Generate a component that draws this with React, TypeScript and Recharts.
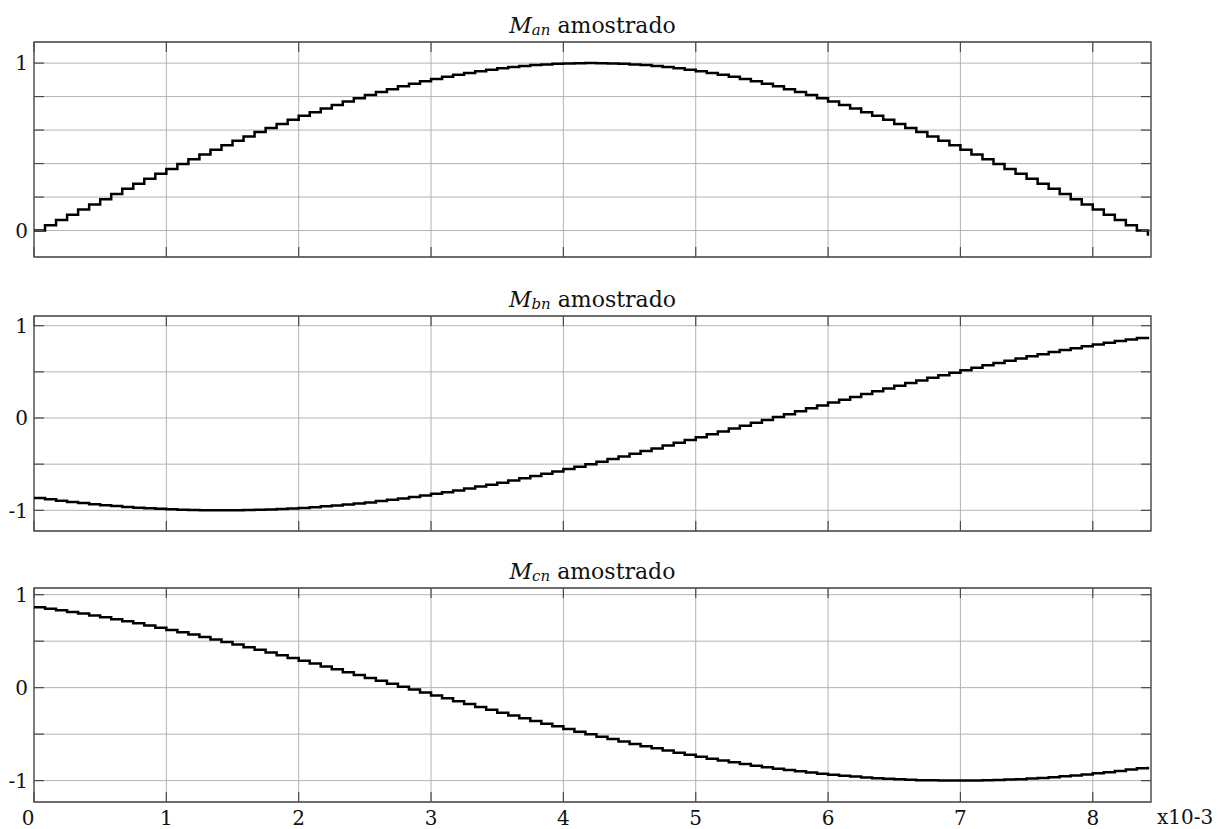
import { LineChart, Line, XAxis, YAxis, CartesianGrid, ReferenceArea } from 'recharts';

// sampled modulating signals, one value per sample (12 samples per ms)
const manSamples = [
  0, 0.031, 0.063, 0.094, 0.125, 0.156, 0.187, 0.218, 0.249, 0.279,
  0.309, 0.339, 0.368, 0.397, 0.426, 0.454, 0.482, 0.509, 0.536, 0.562,
  0.588, 0.613, 0.637, 0.661, 0.685, 0.707, 0.729, 0.75, 0.771, 0.79,
  0.809, 0.827, 0.844, 0.861, 0.876, 0.891, 0.905, 0.918, 0.93, 0.941,
  0.951, 0.96, 0.969, 0.976, 0.982, 0.988, 0.992, 0.996, 0.998, 0.999,
  1.0, 0.999, 0.998, 0.996, 0.992, 0.988, 0.982, 0.976, 0.969, 0.96,
  0.951, 0.941, 0.93, 0.918, 0.905, 0.891, 0.876, 0.861, 0.844, 0.827,
  0.809, 0.79, 0.771, 0.75, 0.729, 0.707, 0.685, 0.661, 0.637, 0.613,
  0.588, 0.562, 0.536, 0.509, 0.482, 0.454, 0.426, 0.397, 0.368, 0.339,
  0.309, 0.279, 0.249, 0.218, 0.187, 0.156, 0.125, 0.094, 0.063, 0.031,
  0, -0.031,
];

const mbnSamples = [
  -0.866, -0.881, -0.896, -0.909, -0.922, -0.934, -0.944, -0.954, -0.963, -0.971,
  -0.978, -0.984, -0.989, -0.993, -0.996, -0.999, -1.0, -1.0, -0.999, -0.997,
  -0.995, -0.991, -0.986, -0.98, -0.974, -0.966, -0.957, -0.948, -0.937, -0.926,
  -0.914, -0.9, -0.886, -0.871, -0.855, -0.839, -0.821, -0.803, -0.784, -0.764,
  -0.743, -0.722, -0.7, -0.677, -0.653, -0.629, -0.605, -0.579, -0.553, -0.527,
  -0.5, -0.473, -0.445, -0.416, -0.388, -0.358, -0.329, -0.299, -0.269, -0.239,
  -0.208, -0.177, -0.146, -0.115, -0.084, -0.052, -0.021, 0.01, 0.042, 0.073,
  0.105, 0.136, 0.167, 0.198, 0.228, 0.259, 0.289, 0.319, 0.349, 0.378,
  0.407, 0.435, 0.463, 0.491, 0.518, 0.545, 0.571, 0.596, 0.621, 0.645,
  0.669, 0.692, 0.714, 0.736, 0.757, 0.777, 0.797, 0.815, 0.833, 0.85,
  0.866, 0.881,
];

const mcnSamples = [
  0.866, 0.85, 0.833, 0.815, 0.797, 0.777, 0.757, 0.736, 0.714, 0.692,
  0.669, 0.645, 0.621, 0.596, 0.571, 0.545, 0.518, 0.491, 0.463, 0.435,
  0.407, 0.378, 0.349, 0.319, 0.289, 0.259, 0.228, 0.198, 0.167, 0.136,
  0.105, 0.073, 0.042, 0.01, -0.021, -0.052, -0.084, -0.115, -0.146, -0.177,
  -0.208, -0.239, -0.269, -0.299, -0.329, -0.358, -0.388, -0.416, -0.445, -0.473,
  -0.5, -0.527, -0.553, -0.579, -0.605, -0.629, -0.653, -0.677, -0.7, -0.722,
  -0.743, -0.764, -0.784, -0.803, -0.821, -0.839, -0.855, -0.871, -0.886, -0.9,
  -0.914, -0.926, -0.937, -0.948, -0.957, -0.966, -0.974, -0.98, -0.986, -0.991,
  -0.995, -0.997, -0.999, -1.0, -1.0, -0.999, -0.996, -0.993, -0.989, -0.984,
  -0.978, -0.971, -0.963, -0.954, -0.944, -0.934, -0.922, -0.909, -0.896, -0.881,
  -0.866, -0.85,
];

const SAMPLE_MS = 1 / 12;
const X_MAX = 8.44;
const xTicks = [0, 1, 2, 3, 4, 5, 6, 7, 8];
const yTicksA = [0, 0.2, 0.4, 0.6, 0.8, 1];
const yTicksBC = [-1, -0.5, 0, 0.5, 1];
const yLabelsA = [0, 1];
const yLabelsBC = [-1, 0, 1];

const WIDTH = 1229;
const HEIGHT = 829;
const PLOT_LEFT = 34;
const PLOT_RIGHT = 1151;
const PAD_TOP = 20;
const AXIS_H = 30;
const FONT = "'DejaVu Serif', serif";
const FRAME = '#4a4a4a';

interface PanelProps {
  sub: string;
  values: number[];
  top: number;
  bottom: number;
  domain: [number, number];
  ticks: number[];
  labels: number[];
  showX: boolean;
}

function Panel({ values, top, bottom, domain, ticks, labels, showX }: PanelProps) {
  const data = values.map((v, i) => ({ t: i * SAMPLE_MS, v }));
  const plotH = bottom - top;
  const chartH = PAD_TOP + plotH + AXIS_H;

  const yTick = (p: any) => {
    const v = p.payload.value;
    return (
      <g>
        <line x1={PLOT_LEFT} x2={PLOT_LEFT + 10} y1={p.y} y2={p.y} stroke={FRAME} strokeWidth={1.2} />
        <line x1={PLOT_RIGHT - 10} x2={PLOT_RIGHT} y1={p.y} y2={p.y} stroke={FRAME} strokeWidth={1.2} />
        {labels.includes(v) && (
          <text x={PLOT_LEFT - 6} y={p.y} dy="0.36em" textAnchor="end" fontFamily={FONT} fontSize={20} fill="#111">
            {String(v)}
          </text>
        )}
      </g>
    );
  };

  const xTick = (p: any) => {
    const v = p.payload.value;
    const yb = PAD_TOP + plotH;
    return (
      <g>
        <line x1={p.x} x2={p.x} y1={yb - 10} y2={yb} stroke={FRAME} strokeWidth={1.2} />
        <line x1={p.x} x2={p.x} y1={PAD_TOP} y2={PAD_TOP + 10} stroke={FRAME} strokeWidth={1.2} />
        {showX && (
          <text x={v === 0 ? p.x - 6 : p.x} y={yb + 23} textAnchor="middle" fontFamily={FONT} fontSize={20} fill="#111">
            {String(v)}
          </text>
        )}
      </g>
    );
  };

  return (
    <div style={{ position: 'absolute', left: 0, top: top - PAD_TOP, width: WIDTH, height: chartH }}>
      <LineChart
        width={WIDTH}
        height={chartH}
        data={data}
        margin={{ top: PAD_TOP, right: WIDTH - PLOT_RIGHT, bottom: 0, left: 0 }}
      >
        <CartesianGrid stroke="#b3b3b3" strokeWidth={1} />
        <XAxis
          dataKey="t"
          type="number"
          domain={[0, X_MAX]}
          ticks={xTicks}
          interval={0}
          allowDataOverflow
          height={AXIS_H}
          axisLine={false}
          tickLine={false}
          tick={xTick}
        />
        <YAxis
          type="number"
          domain={domain}
          ticks={ticks}
          interval={0}
          allowDataOverflow
          width={PLOT_LEFT}
          axisLine={false}
          tickLine={false}
          tick={yTick}
        />
        <ReferenceArea
          x1={0}
          x2={X_MAX}
          y1={domain[0]}
          y2={domain[1]}
          fill="none"
          fillOpacity={0}
          stroke={FRAME}
          strokeWidth={1.3}
          ifOverflow="extendDomain"
        />
        <Line
          type="stepAfter"
          dataKey="v"
          stroke="#000"
          strokeWidth={2.5}
          dot={false}
          isAnimationActive={false}
        />
      </LineChart>
    </div>
  );
}

const panels: PanelProps[] = [
  { sub: 'an', values: manSamples, top: 42, bottom: 257, domain: [-0.158, 1.126], ticks: yTicksA, labels: yLabelsA, showX: false },
  { sub: 'bn', values: mbnSamples, top: 316, bottom: 531, domain: [-1.224, 1.105], ticks: yTicksBC, labels: yLabelsBC, showX: false },
  { sub: 'cn', values: mcnSamples, top: 588, bottom: 802, domain: [-1.23, 1.072], ticks: yTicksBC, labels: yLabelsBC, showX: true },
];

export default function App() {
  const cx = (PLOT_LEFT + PLOT_RIGHT) / 2;
  return (
    <div style={{ position: 'absolute', left: 0, top: 0, width: WIDTH, height: HEIGHT, background: '#fff', overflow: 'hidden' }}>
      {panels.map((p) => (
        <Panel key={p.sub} {...p} />
      ))}
      <svg width={WIDTH} height={HEIGHT} style={{ position: 'absolute', left: 0, top: 0, pointerEvents: 'none' }}>
        {panels.map((p) => (
          <text key={p.sub} x={cx} y={p.top - 9} textAnchor="middle" fontFamily={FONT} fontSize={22} fill="#111">
            <tspan fontStyle="italic">M</tspan>
            <tspan fontStyle="italic" fontSize={15} dy={2}>{p.sub}</tspan>
            <tspan dy={-2}> amostrado</tspan>
          </text>
        ))}
        <text x={1157} y={824} fontFamily={FONT} fontSize={20} fill="#111">
          x10-3
        </text>
      </svg>
    </div>
  );
}
